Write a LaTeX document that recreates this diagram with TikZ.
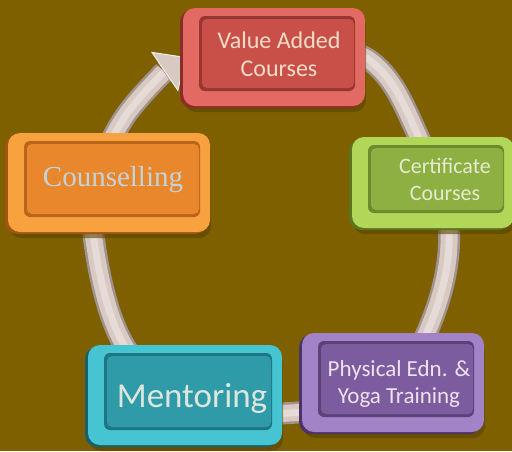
\documentclass[tikz,border=0pt]{standalone}
\usepackage{fontspec}
\setmainfont{Carlito}
\newfontfamily\cambr{Liberation Serif}
\usetikzlibrary{arrows.meta}
\definecolor{bg}{HTML}{7F6000}
\definecolor{bgshadow}{HTML}{5A4400}
\definecolor{ringedge}{HTML}{A0928C}
\definecolor{ringmid}{HTML}{D8C9C2}
\definecolor{ringhi}{HTML}{E6DBD6}
\definecolor{ringwhite}{HTML}{F2ECE8}
\definecolor{redrim}{HTML}{E26A62}\definecolor{redface}{HTML}{C94F49}
\definecolor{reddark}{HTML}{9A3632}\definecolor{redside}{HTML}{8A2C28}
\definecolor{orarim}{HTML}{F7A23E}\definecolor{oraface}{HTML}{E8872C}
\definecolor{oradark}{HTML}{B9661C}\definecolor{oraside}{HTML}{A05512}
\definecolor{grnrim}{HTML}{B2D657}\definecolor{grnface}{HTML}{8EAF42}
\definecolor{grndark}{HTML}{6C8A2E}\definecolor{grnside}{HTML}{5A7420}
\definecolor{tealrim}{HTML}{47C4D2}\definecolor{tealface}{HTML}{2F9BA8}
\definecolor{tealdark}{HTML}{1F7683}\definecolor{tealside}{HTML}{18606A}
\definecolor{purrim}{HTML}{A283C8}\definecolor{purface}{HTML}{7C5C9F}
\definecolor{purdark}{HTML}{5C427A}\definecolor{purside}{HTML}{4A3366}
\definecolor{vatext}{HTML}{F2DEC8}
\definecolor{cotext}{HTML}{C3D3DA}
\definecolor{cetext}{HTML}{E4ECCF}
\definecolor{metext}{HTML}{DCE6DE}
\definecolor{phtext}{HTML}{EEE2EE}
\newcommand{\keybox}[5]{%
  \fill[bgshadow,opacity=0.6,rounded corners=12pt] (#2+1,#3+6) rectangle (#4+1,#5+6);
  \fill[#1side,rounded corners=12pt] (#2-3,#3+2) rectangle (#4-3,#5+2);
  \fill[#1rim,rounded corners=12pt] (#2,#3) rectangle (#4,#5);
  \fill[#1dark,rounded corners=6pt] (#2+16,#3+8) rectangle (#4-10,#5-15);
  \fill[#1face,rounded corners=5pt] (#2+19,#3+11) rectangle (#4-11,#5-18);
}
\tikzset{lbl/.style={align=center,inner sep=0pt}}
\begin{document}
\begin{tikzpicture}[x=1pt,y=-1pt]
\fill[bg] (0,0) rectangle (512,451);
\useasboundingbox (0,0) rectangle (512,451);
% ring
\coordinate (ringstart) at (300,44);
\coordinate (arrowbase) at (164,72);
\coordinate (ringend) at (186,57);
\def\ringpath{plot[smooth,tension=0.7] coordinates {(ringstart) (372,62) (420,140) (449,228) (428,330) (380,390) (290,413) (200,400) (127,350) (93,232) (103,166) (124,118) (arrowbase)}}
\draw[ringedge,line width=22pt] \ringpath;
\draw[ringmid,line width=17pt] \ringpath;
\draw[ringhi,line width=7pt] \ringpath;
\draw[ringedge,line width=22pt,-{Triangle[width=48pt,length=26pt,line width=1pt,fill=ringmid,color=ringwhite]}] (arrowbase) -- (ringend);
% boxes
\keybox{red}{183}{8}{365}{106}
\keybox{ora}{8}{133}{210}{232}
\keybox{grn}{352}{137}{514}{228}
\keybox{teal}{88}{345}{282}{445}
\keybox{pur}{302}{333}{484}{432}
\node[lbl,text=vatext,font=\fontsize{24}{28}\selectfont] (va) at (279,54) {Value Added\\Courses};
\node[lbl,text=cotext,font=\cambr\fontsize{29}{32}\selectfont] (co) at (113,180) {Counselling};
\node[lbl,text=cetext,font=\fontsize{22}{27}\selectfont] (ce) at (445,179) {Certificate\\Courses};
\node[lbl,text=metext,font=\fontsize{35}{40}\selectfont] (me) at (192,398) {Mentoring};
\node[lbl,text=phtext,font=\fontsize{23}{27}\selectfont] (ph) at (399,384) {Physical Edn. \&\\Yoga Training};
\end{tikzpicture}
\end{document}
